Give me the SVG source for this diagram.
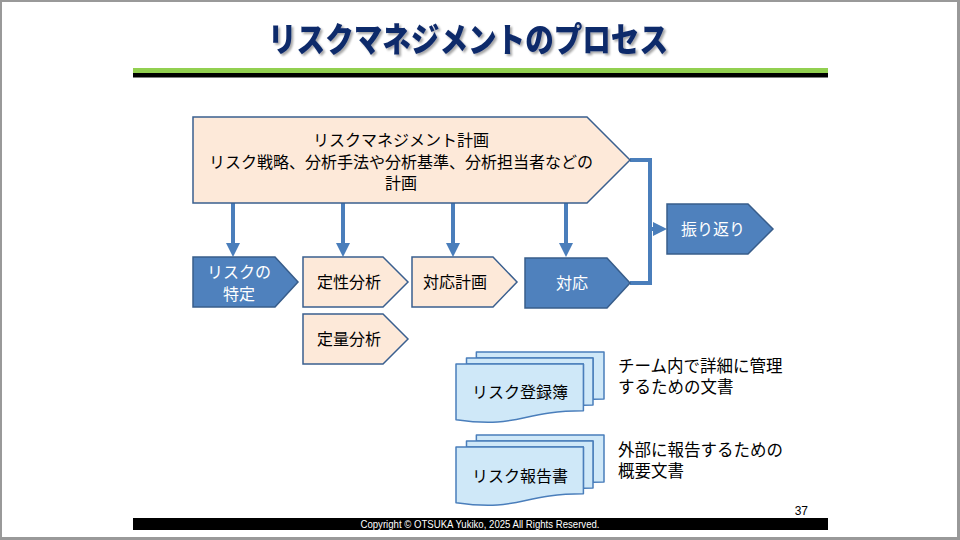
<svg xmlns="http://www.w3.org/2000/svg" width="960" height="540" viewBox="0 0 960 540">
<defs>
<style>
.jp{font-family:"Noto Sans CJK JP","Noto Sans",sans-serif;font-size:16px;}
.note{font-size:16.5px;}
.peach{fill:#fde9d9;stroke:#3a5f8f;stroke-width:1.5;}
.blue{fill:#4f81bd;stroke:#385d8a;stroke-width:1.5;}
.doc{fill:#cfe8f8;stroke:#4a7ebb;stroke-width:1.5;stroke-linejoin:round;}
.conn{fill:none;stroke:#4a7ebb;stroke-width:4;}
.dark{fill:#000;}
.light{fill:#fff;}
</style>
<marker id="ah" viewBox="0 0 14 14" refX="1" refY="7" markerWidth="14" markerHeight="14" markerUnits="userSpaceOnUse" orient="auto">
<path d="M0,0 L14,7 L0,14 Z" fill="#4a7ebb"/>
</marker>
<filter id="sh" x="-5%" y="-20%" width="110%" height="140%">
<feDropShadow dx="2" dy="2" stdDeviation="1" flood-color="#000" flood-opacity="0.35"/>
</filter>
<g id="docshape">
<path class="doc" d="M20.36,5.92 L20.36,0 L148,0 L148,46.97 C142.5,46.97 137,47.22 137,47.22 L137,5.92 Z"/>
<path class="doc" d="M10.5,12 L10.5,5.92 L137,5.92 L137,53.05 C132.2,53.05 127.4,53.37 127.4,53.37 L127.4,12 Z"/>
<path class="doc" d="M0,67.83 C63.7,76.84 63.7,58.82 127.4,58.82 L127.4,12 L0,12 Z"/>
</g>
</defs>
<rect x="0" y="0" width="960" height="540" fill="#999"/>
<rect x="2" y="2" width="955" height="535" fill="#fff"/>

<g id="title">
<text x="468" y="52" text-anchor="middle" font-family="Noto Sans CJK JP, sans-serif" font-weight="900" font-size="34" fill="#0f2a6b" textLength="400" lengthAdjust="spacingAndGlyphs" filter="url(#sh)">リスクマネジメントのプロセス</text>
<rect x="133" y="68" width="695" height="5" fill="#92d050"/>
<rect x="133" y="73" width="695" height="4.5" fill="#000"/>
</g>

<g id="connectors">
<line class="conn" x1="233" y1="203" x2="233" y2="244" marker-end="url(#ah)"/>
<line class="conn" x1="343" y1="203" x2="343" y2="244" marker-end="url(#ah)"/>
<line class="conn" x1="453" y1="203" x2="453" y2="244" marker-end="url(#ah)"/>
<line class="conn" x1="566" y1="203" x2="566" y2="244" marker-end="url(#ah)"/>
<path class="conn" d="M630,160 H650 V283 H630"/>
<line class="conn" x1="650" y1="229" x2="654" y2="229" marker-end="url(#ah)"/>
</g>

<g id="plan">
<path class="peach" d="M193,117 H587 L630,160 L587,203 H193 Z"/>
<text class="jp dark" text-anchor="middle"><tspan x="401" y="146">リスクマネジメント計画</tspan><tspan x="401" y="168">リスク戦略、分析手法や分析基準、分析担当者などの</tspan><tspan x="401" y="189">計画</tspan></text>
</g>

<g id="identify">
<path class="blue" d="M193,257 H275 L298,282 L275,307 H193 Z"/>
<text class="jp light" text-anchor="middle"><tspan x="239" y="278">リスクの</tspan><tspan x="239" y="300">特定</tspan></text>
</g>

<g id="qualitative">
<path class="peach" d="M303,257 H383 L408,282 L383,307 H303 Z"/>
<text class="jp dark" x="349" y="288" text-anchor="middle">定性分析</text>
</g>

<g id="quantitative">
<path class="peach" d="M303,314 H383 L408,339 L383,364 H303 Z"/>
<text class="jp dark" x="349" y="345" text-anchor="middle">定量分析</text>
</g>

<g id="response-plan">
<path class="peach" d="M412,257 H493 L517,282 L493,307 H412 Z"/>
<text class="jp dark" x="455" y="288" text-anchor="middle">対応計画</text>
</g>

<g id="response">
<path class="blue" d="M525,258 H607 L630,283 L607,308 H525 Z"/>
<text class="jp light" x="572" y="289" text-anchor="middle">対応</text>
</g>

<g id="review">
<path class="blue" d="M667,204 H748 L773,229 L748,254 H667 Z"/>
<text class="jp light" x="713" y="235" text-anchor="middle">振り返り</text>
</g>

<g id="register">
<use href="#docshape" transform="translate(456,352)"/>
<text class="jp dark" x="520" y="398" text-anchor="middle">リスク登録簿</text>
</g>
<g id="register-note">
<text class="jp note dark"><tspan x="618" y="372">チーム内で詳細に管理</tspan><tspan x="618" y="393">するための文書</tspan></text>
</g>

<g id="report">
<use href="#docshape" transform="translate(456,435)"/>
<text class="jp dark" x="520" y="482" text-anchor="middle">リスク報告書</text>
</g>
<g id="report-note">
<text class="jp note dark"><tspan x="618" y="456">外部に報告するための</tspan><tspan x="618" y="477">概要文書</tspan></text>
</g>

<g id="footer">
<text x="808" y="515" text-anchor="end" font-family="Liberation Sans, Arial, sans-serif" font-size="12" fill="#000">37</text>
<rect x="133" y="518" width="695" height="12" fill="#000"/>
<text x="480" y="527.5" text-anchor="middle" font-family="Liberation Sans, Arial, sans-serif" font-size="10" fill="#fff" textLength="239" lengthAdjust="spacingAndGlyphs">Copyright © OTSUKA Yukiko, 2025 All Rights Reserved.</text>
</g>
</svg>
